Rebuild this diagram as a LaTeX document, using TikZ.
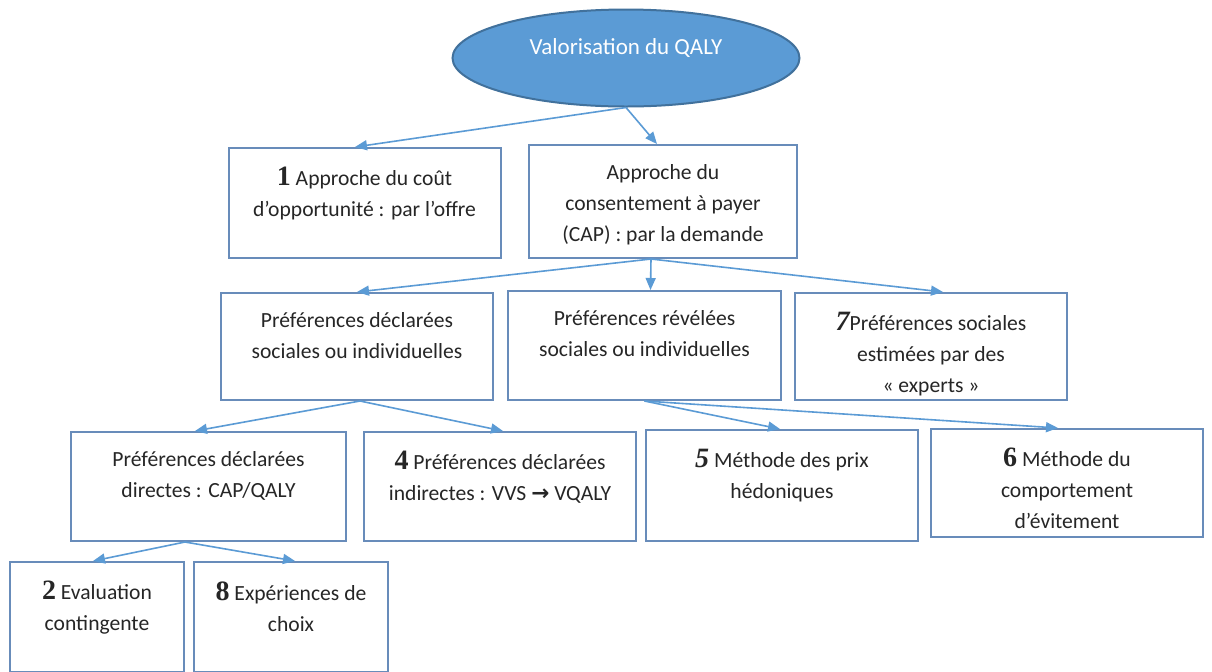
\documentclass[tikz,border=0pt]{standalone}
\usepackage{fontspec}
\setmainfont{Carlito}
\newfontfamily\numfont{Liberation Serif}
\newfontfamily\arrowfont{DejaVu Sans}
\usetikzlibrary{arrows.meta,shapes.geometric}
\definecolor{linkblue}{RGB}{91,155,213}
\definecolor{boxblue}{RGB}{104,140,186}
\definecolor{ovalfill}{RGB}{91,155,213}
\definecolor{ovaldraw}{RGB}{65,113,156}
\tikzstyle{oval}=[ellipse,fill=ovalfill,draw=ovaldraw,line width=1pt,minimum width=173.5pt,minimum height=48.5pt,text=white,font=\fontsize{11.5}{14}\selectfont]
\tikzstyle{cell}=[rectangle,draw=boxblue,line width=1pt,inner sep=0pt]
\tikzstyle{celltext}=[anchor=north,align=center,inner sep=0pt,yshift=-10pt,text=black!85,font=\fontsize{10.8}{15.5}\selectfont]
\tikzstyle{edge}=[draw=linkblue,line width=0.8pt,-{Triangle[length=6pt,width=5pt]}]
\newcommand{\num}[1]{{\numfont\fontsize{14}{14}\selectfont\bfseries #1}}

\begin{document}
\begin{tikzpicture}[x=0.5pt,y=-0.5pt]
    \clip (0,0) rectangle (1212,671);
    \fill[white] (0,0) rectangle (1212,671);

    % The top oval
    \node[oval,text depth=11pt] (qaly) at (626,58) {Valorisation du QALY};

    % Then the boxes, row by row
    \foreach \pos/ \name/ \w/ \h/ \txt in {
        {(364.5,203)/b1/136/55/{\num{1} Approche du coût\\d’opportunité : par l’offre}},
        {(663,201.5)/b2/134/56.5/{Approche du\\consentement à payer\\(CAP) : par la demande}},
        {(357,346.5)/b3/136/53.5/{Préférences déclarées\\sociales ou individuelles}},
        {(644.5,345.5)/brev/136.5/54.5/{Préférences révélées\\sociales ou individuelles}},
        {(931,346.5)/b7/136/53.5/{\num{\itshape 7}Préférences sociales\\estimées par des\\«~experts~»}},
        {(208.5,486.5)/bdir/137.5/54.5/{Préférences déclarées\\directes : CAP/QALY}},
        {(500,486.5)/b4/136/54.5/{\num{4} Préférences déclarées\\indirectes : VVS {\arrowfont\bfseries →} VQALY}},
        {(782,485.5)/b5/136/55.5/{\num{\itshape 5} Méthode des prix\\hédoniques}},
        {(1067,483)/b6/136/54/{\num{6} Méthode du\\comportement\\d'évitement}},
        {(97,617)/bev/87/55/{\num{2} Evaluation\\contingente}},
        {(291,617)/bch/97/55/{\num{8} Expériences de\\choix}}}
        \node[cell,minimum width=\w pt,minimum height=\h pt,
              label={[celltext]north:{\txt}}] (\name) at \pos {};

    % Connect the boxes with arrows
    \foreach \source/ \sx/ \dest/ \dx in {qaly/0/b1/-4.75, qaly/0/b2/-3,
        b2/-6/b3/0, b2/-6/brev/3, b2/-6/b7/6,
        b3/1.5/bdir/-6.75, b3/1.5/b4/1.5,
        brev/0/b5/-1, brev/0/b6/-4.5,
        bdir/-11.75/bev/-2, bdir/-11.75/bch/2}
        \path[edge] ([xshift=\sx pt]\source.south) -- ([xshift=\dx pt]\dest.north);
\end{tikzpicture}
\end{document}
